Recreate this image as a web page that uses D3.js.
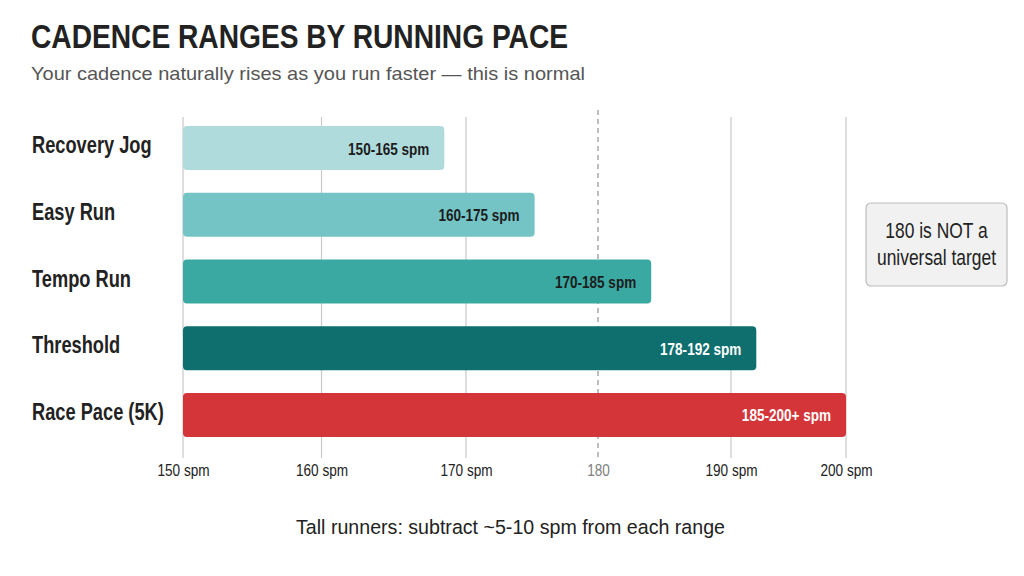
<!DOCTYPE html>
<html>
<head>
<meta charset="utf-8">
<script src="https://cdn.jsdelivr.net/npm/d3@7"></script>
<style>
  html, body { margin: 0; padding: 0; background: #ffffff; }
  svg { display: block; }
</style>
</head>
<body>
<svg id="chart" width="1024" height="576"></svg>
<script>
// ---- Data ----
const paces = ["Recovery Jog", "Easy Run", "Tempo Run", "Threshold", "Race Pace (5K)"];
const rangeLow = [150, 160, 170, 178, 185];
const rangeHigh = [165, 175, 185, 192, 200];
const rangeSuffix = ["", "", "", "", "+"];
const barStart = 150;
const barEnd = [168.5, 175.2, 184, 192.2, 200];   // where each bar visually ends on the axis
const tickValues = [150, 160, 170, 180, 190, 200];
const tickLabels = ["150 spm", "160 spm", "170 spm", "180", "190 spm", "200 spm"];
const barColors = ["#afdbdc", "#74c4c6", "#3aa9a1", "#0f6f6f", "#d43539"];
const barTextColors = ["#1c1c1c", "#1c1c1c", "#1c1c1c", "#ffffff", "#ffffff"];
const highlightTick = 180;

const title = "CADENCE RANGES BY RUNNING PACE";
const subtitle = "Your cadence naturally rises as you run faster \u2014 this is normal";
const note = ["180 is NOT a", "universal target"];
const footnote = "Tall runners: subtract ~5-10 spm from each range";

// ---- Layout ----
const svg = d3.select("#chart");
const sans = "'Liberation Sans', Arial, sans-serif";

// condense text horizontally (no narrow font is installed)
function condense(sel, factor) {
  sel.each(function () {
    const w = this.getComputedTextLength();
    d3.select(this).attr("textLength", w * factor).attr("lengthAdjust", "spacingAndGlyphs");
  });
}

// The printed axis is not evenly spaced; the scale follows its tick stops.
const x = d3.scaleLinear()
  .domain(tickValues)
  .range([183, 321.5, 466, 598, 731, 846]);

const y = d3.scaleBand()
  .domain(paces)
  .range([126, 437])
  .paddingInner(0.34)
  .paddingOuter(0);

const gridTop = 117, gridBottom = 458;

// Title & subtitle
svg.append("text")
  .attr("x", 31).attr("y", 48)
  .attr("font-family", sans).attr("font-weight", "bold")
  .attr("font-size", 33).attr("fill", "#222")
  .attr("textLength", 537).attr("lengthAdjust", "spacingAndGlyphs")
  .text(title);

svg.append("text")
  .attr("x", 31).attr("y", 80)
  .attr("font-family", sans)
  .attr("font-size", 18.5).attr("fill", "#555")
  .attr("textLength", 554).attr("lengthAdjust", "spacingAndGlyphs")
  .text(subtitle);

// Gridlines
const grid = svg.append("g");
grid.selectAll("line")
  .data(tickValues)
  .join("line")
  .attr("x1", d => x(d)).attr("x2", d => x(d))
  .attr("y1", d => d === highlightTick ? 110 : gridTop)
  .attr("y2", gridBottom)
  .attr("stroke", d => d === highlightTick ? "#9a9a9a" : "#c8c8c8")
  .attr("stroke-width", d => d === highlightTick ? 1.3 : 1.2)
  .attr("stroke-dasharray", d => d === highlightTick ? "5,4" : null);

// Axis (labels only, using d3.axisBottom)
const axis = d3.axisBottom(x)
  .tickValues(tickValues)
  .tickFormat((d, i) => tickLabels[i])
  .tickSize(0)
  .tickPadding(0);

const axisG = svg.append("g")
  .attr("transform", `translate(0, ${465})`)
  .call(axis);
axisG.select(".domain").remove();
axisG.selectAll("text")
  .attr("font-family", sans)
  .attr("font-size", 16)
  .attr("dy", "0.71em")
  .attr("fill", d => d === highlightTick ? "#808080" : "#222")
  .call(condense, 0.85);

// Bars
const rows = paces.map((p, i) => ({
  pace: p, lo: rangeLow[i], hi: rangeHigh[i], end: barEnd[i],
  color: barColors[i], textColor: barTextColors[i], suffix: rangeSuffix[i]
}));

svg.append("g").selectAll("rect")
  .data(rows)
  .join("rect")
  .attr("x", x(barStart))
  .attr("y", d => y(d.pace))
  .attr("width", d => x(d.end) - x(barStart))
  .attr("height", y.bandwidth())
  .attr("rx", 4).attr("ry", 4)
  .attr("fill", d => d.color);

// Bar value labels
svg.append("g").selectAll("text")
  .data(rows)
  .join("text")
  .attr("x", d => x(d.end) - 15)
  .attr("y", d => y(d.pace) + y.bandwidth() / 2 + 6.5)
  .attr("text-anchor", "end")
  .attr("font-family", sans).attr("font-weight", "bold")
  .attr("font-size", 16.5)
  .attr("fill", d => d.textColor)
  .text(d => `${d.lo}-${d.hi}${d.suffix} spm`)
  .call(condense, 0.82);

// Category labels
svg.append("g").selectAll("text")
  .data(rows)
  .join("text")
  .attr("x", 32)
  .attr("y", d => y(d.pace) + y.bandwidth() / 2 + 5)
  .attr("font-family", sans).attr("font-weight", "bold")
  .attr("font-size", 24)
  .attr("fill", "#222")
  .text(d => d.pace)
  .call(condense, 0.76);

// Annotation box
const box = svg.append("g");
box.append("rect")
  .attr("x", 866).attr("y", 203)
  .attr("width", 141).attr("height", 83)
  .attr("rx", 5).attr("ry", 5)
  .attr("fill", "#f1f1f1")
  .attr("stroke", "#bdbdbd").attr("stroke-width", 1.2);
box.selectAll("text")
  .data(note)
  .join("text")
  .attr("x", 936.5)
  .attr("y", (d, i) => 238 + i * 27)
  .attr("text-anchor", "middle")
  .attr("font-family", sans)
  .attr("font-size", 21.5)
  .attr("fill", "#222")
  .text(d => d)
  .call(condense, 0.81);

// Footnote
svg.append("text")
  .attr("x", 296).attr("y", 534)
  .attr("font-family", sans)
  .attr("font-size", 20.5).attr("fill", "#222")
  .attr("textLength", 429).attr("lengthAdjust", "spacingAndGlyphs")
  .text(footnote);
</script>
</body>
</html>
